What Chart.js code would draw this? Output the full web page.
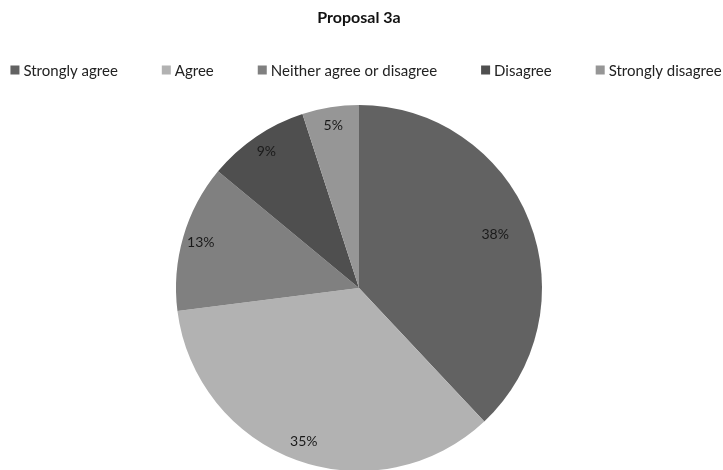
<!DOCTYPE html>
<html>
<head>
<meta charset="utf-8">
<script src="https://cdn.jsdelivr.net/npm/chart.js@4"></script>
<style>
  html, body { margin: 0; padding: 0; background: #fff; overflow: hidden; }
  #wrap { width: 723px; height: 470px; }
</style>
</head>
<body>
<div id="wrap"><canvas id="pieChart"></canvas></div>
<script>
// Data
const categories = ['Strongly agree', 'Agree', 'Neither agree or disagree', 'Disagree', 'Strongly disagree'];
const percentages = [38, 35, 13, 9, 5];
const sliceColors = ['#626262', '#b2b2b2', '#808080', '#4f4f4f', '#969696'];

const fontFamily = 'Lato, "Open Sans", sans-serif';

// title + single-row legend drawn by hand so it never wraps
const header = {
    id: 'header',
    afterDraw(chart, args, opts) {
        const ctx = chart.ctx;
        ctx.save();
        ctx.textBaseline = 'middle';
        ctx.textAlign = 'center';
        ctx.fillStyle = '#111';
        ctx.font = 'bold 16px ' + fontFamily;
        ctx.fillText(opts.title, opts.titleX, opts.titleY);

        ctx.font = '15px ' + fontFamily;
        ctx.textAlign = 'left';
        const widths = categories.map(c => opts.box + opts.boxGap + ctx.measureText(c).width);
        const total = widths.reduce((a, b) => a + b, 0) + opts.itemGap * (categories.length - 1);
        let x = opts.legendX - total / 2;
        categories.forEach((c, i) => {
            ctx.fillStyle = sliceColors[i];
            ctx.fillRect(x, opts.legendY - opts.box / 2, opts.box, opts.box);
            ctx.fillStyle = '#222';
            ctx.fillText(c, x + opts.box + opts.boxGap, opts.legendY + 1);
            x += widths[i] + opts.itemGap;
        });
        ctx.restore();
    }
};

// draws the percentage labels inside each slice
const sliceLabels = {
    id: 'sliceLabels',
    afterDatasetsDraw(chart, args, opts) {
        const ctx = chart.ctx;
        const meta = chart.getDatasetMeta(0);
        ctx.save();
        ctx.font = '14px ' + fontFamily;
        ctx.fillStyle = '#1a1a1a';
        ctx.textAlign = 'center';
        ctx.textBaseline = 'middle';
        meta.data.forEach((arc, i) => {
            const mid = (arc.startAngle + arc.endAngle) / 2;
            const r = arc.outerRadius * opts.dist[i];
            ctx.fillText(percentages[i] + '%', arc.x + Math.cos(mid) * r, arc.y + Math.sin(mid) * r);
        });
        ctx.restore();
    }
};

new Chart(document.getElementById('pieChart'), {
    type: 'pie',
    data: {
        labels: categories,
        datasets: [{
            data: percentages,
            backgroundColor: sliceColors,
            borderWidth: 0,
            radius: 183
        }]
    },
    options: {
        responsive: true,
        maintainAspectRatio: false,
        animation: false,
        layout: { padding: { top: 106, right: 5, left: 0, bottom: 0 } },
        plugins: {
            title: { display: false },
            legend: { display: false },
            tooltip: { enabled: false },
            header: { title: 'Proposal 3a', titleX: 359, titleY: 18, legendX: 366, legendY: 70, box: 9, boxGap: 4, itemGap: 44 },
            sliceLabels: { dist: [0.8, 0.89, 0.9, 0.9, 0.9] }
        }
    },
    plugins: [header, sliceLabels]
});
</script>
</body>
</html>
